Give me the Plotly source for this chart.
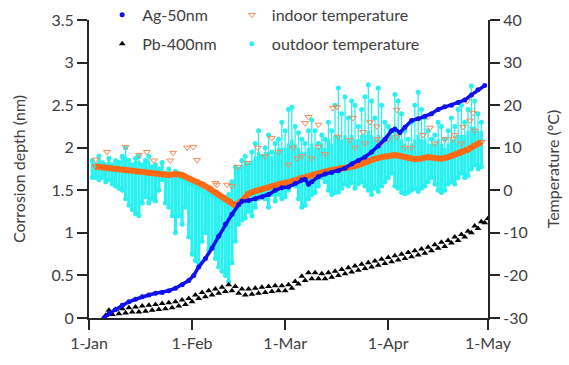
import pandas as pd
import plotly.graph_objects as go

START = "2021-01-01"

# ---------------- data (days counted from 1-Jan) ----------------
ag_days = [4.5, 6, 8, 10, 12, 14, 16, 18, 20, 22, 24, 26, 28, 30, 31.5, 33, 35, 37, 39, 41,
           43, 45, 46, 48, 50, 52, 54, 56, 58, 60, 62, 64, 65, 66, 67, 69, 71, 73, 75, 77,
           79, 81, 83, 85, 87, 89, 91, 92, 93.5, 95, 97, 99, 101, 103, 105, 107, 109, 111,
           113, 115, 117, 119]
ag_depth = [0.00, 0.05, 0.10, 0.15, 0.19, 0.22, 0.25, 0.27, 0.29, 0.30, 0.32, 0.35, 0.39,
            0.44, 0.50, 0.60, 0.70, 0.82, 0.96, 1.10, 1.22, 1.33, 1.37, 1.38, 1.40, 1.42,
            1.45, 1.50, 1.53, 1.54, 1.58, 1.62, 1.63, 1.57, 1.60, 1.66, 1.69, 1.71, 1.73,
            1.76, 1.81, 1.85, 1.89, 1.95, 2.02, 2.10, 2.20, 2.22, 2.18, 2.24, 2.32, 2.34,
            2.37, 2.40, 2.45, 2.48, 2.50, 2.53, 2.56, 2.62, 2.68, 2.73]

pb_days = list(range(5, 121))
pb_depth = [0.03, 0.09, 0.04, 0.10, 0.05, 0.11, 0.06, 0.12, 0.07, 0.13, 0.07, 0.14, 0.08,
            0.15, 0.09, 0.16, 0.10, 0.17, 0.11, 0.18, 0.12, 0.19, 0.14, 0.21, 0.16, 0.23,
            0.19, 0.27, 0.23, 0.30, 0.25, 0.32, 0.27, 0.34, 0.29, 0.36, 0.31, 0.39, 0.32,
            0.37, 0.29, 0.34, 0.27, 0.34, 0.28, 0.35, 0.29, 0.36, 0.30, 0.37, 0.31, 0.38,
            0.32, 0.38, 0.32, 0.39, 0.35, 0.43, 0.40, 0.49, 0.44, 0.53, 0.46, 0.53, 0.46,
            0.52, 0.46, 0.53, 0.48, 0.55, 0.50, 0.57, 0.52, 0.59, 0.54, 0.61, 0.56, 0.63,
            0.58, 0.65, 0.60, 0.67, 0.62, 0.69, 0.64, 0.71, 0.66, 0.73, 0.68, 0.75, 0.70,
            0.77, 0.72, 0.79, 0.74, 0.81, 0.76, 0.83, 0.79, 0.86, 0.82, 0.89, 0.84, 0.91,
            0.88, 0.95, 0.91, 0.98, 0.95, 1.02, 1.00, 1.08, 1.05, 1.13, 1.12, 1.17]

in_days = [2, 4, 6, 8, 10, 12, 14, 16, 18, 20, 22, 24, 26, 28, 30, 32, 34, 36, 38, 40, 42,
           44, 46, 48, 50, 52, 54, 56, 58, 60, 62, 64, 66, 68, 70, 72, 74, 76, 78, 80, 82,
           84, 86, 88, 90, 92, 94, 96, 98, 100, 102, 104, 106, 108, 110, 112, 114, 116, 118]
in_temp = [5.6, 5.4, 5.2, 5.0, 4.8, 4.7, 4.5, 4.3, 4.1, 4.0, 3.7, 3.6, 3.8, 3.6, 2.8, 2.2,
           1.4, 0.5, -0.5, -1.6, -2.6, -3.6, -2.5, -0.8, -0.2, 0.3, 0.7, 1.2, 1.6, 1.9, 2.4,
           3.0, 3.4, 3.9, 4.2, 4.6, 4.8, 5.0, 5.3, 5.7, 6.2, 6.9, 7.4, 7.8, 8.0, 8.3, 8.0,
           7.6, 7.3, 7.5, 7.8, 7.6, 7.4, 7.8, 8.3, 8.9, 9.6, 10.5, 11.3]

in_peak_days = [2, 5.4, 11, 15, 17.4, 19.5, 24.4, 25.3, 29.5, 31.3, 32.5, 38, 38.5, 41.5,
                43, 44.8, 47.5, 50.8, 53, 55, 57, 60, 61.4, 62.6, 64, 65, 66, 67, 69, 69,
                71, 73.4, 74.6, 75, 78.5, 79.4, 80, 82.4, 83, 84.5, 86.6, 86.6, 88, 90,
                92.6, 92.6, 95, 97, 100.5, 102, 102.6, 104, 107, 109.5, 110, 112, 112.5,
                113.7, 114.6, 115.5, 116]
in_peak_temp = [7.2, 9.0, 10.2, 8.3, 9.0, 7.0, 7.0, 8.8, 10.0, 10.2, 7.1, 1.7, 1.3, 1.3,
                1.0, 5.5, 6.4, 10.0, 8.0, 12.3, 9.0, 6.0, 10.0, 7.5, 8.0, 15.8, 17.2, 7.5,
                15.4, 10.2, 8.5, 19.3, 19.6, 12.6, 11.8, 17.0, 10.0, 13.7, 11.0, 16.0, 12.0,
                15.0, 11.0, 12.0, 18.9, 12.6, 10.0, 10.0, 13.0, 17.3, 14.7, 11.0, 12.0, 12.0,
                13.0, 11.0, 14.9, 21.0, 16.4, 18.2, 14.0]

out_days = list(range(1, 119))
out_max = [7, 6, 8, 6.5, 6, 7.5, 6, 7, 6.5, 8, 10, 7, 6, 7.5, 8, 6, 7, 8, 5.5, 6, 5, 6.5,
           4, 5, 3.5, 4.5, 4, 3, 2.5, 2, 1.5, 1, 0.5, 0, -0.5, 0, -1, -1.5, -2, -2.5, -2,
           -1, 2, 5.5, 5, 7, 8, 6, 9, 11, 14, 8, 10, 13, 9, 11, 12, 16, 14, 19, 19.5, 15,
           13.5, 12, 11, 14, 16.5, 14, 11, 13, 12, 16, 14, 20, 24, 18, 22, 17, 21, 20, 15,
           19, 22, 24.8, 21, 17, 24, 20, 16, 15, 14, 22.5, 21, 18, 14, 12, 16, 20, 23, 19,
           17, 14, 12, 13, 16, 15, 12, 14, 17, 15, 19, 20, 16, 19, 24.5, 21, 18, 16]
# upper edge of the dense part of each day's cloud of readings
out_core = [7, 6, 8, 6.5, 6, 7.5, 6, 7, 6.5, 8, 8, 7, 6, 7, 7, 6, 7, 7, 5.5, 6, 5, 6.5,
            4, 5, 3.5, 4.5, 4, 3, 2.5, 2, 1.5, 1, 0.5, 0, -0.5, 0, -1, -1.5, -2, -2.5, -2,
            -1, 2, 5, 5, 6, 7, 6, 7, 8, 9, 8, 9, 9, 8, 9, 10, 10, 10, 11, 12, 11, 10, 9, 9,
            10, 11, 10, 10, 11, 10, 12, 11, 13, 13, 12, 13, 12, 13, 12, 12, 13, 13, 14, 13,
            12, 13, 12, 12, 13, 13, 14, 13, 12, 11, 10, 11, 12, 13, 12, 12, 11, 11, 11, 12,
            11, 10, 11, 12, 12, 13, 13, 13, 14, 15, 15, 14, 14]
out_min = [3, 3, 2.5, 3, 2, 2.5, 1.5, 1, 0.5, 0, -2, -3.5, -4.5, -5.5, -6, -3, -1.5, -3,
           -2, -2.5, 0, 2.5, -3, -4, -6, -10, -6, -8, -4, -11, -15, -16.5, -17, -12, -10,
           -14, -13, -16, -18, -19, -20, -21.5, -17, -12, -8, -7, -6.5, -5, -6, -4, -2, -1,
           -2, -4, -1, -2.5, -1, -2, -1.5, 0, 2, 1, -2, -4, -3.5, -2, -1, -0.5, 1, 3, 2, 0,
           -1, -0.5, -0.4, 0.5, 1.5, 1, 1.8, 0.5, 1.5, 2, 1, 0, -1, 0.5, -0.3, 1, 2, 3, 4,
           1, 0.5, -0.5, -0.8, -0.5, 0, 0.5, -0.3, 0.5, 1, 2, 3, 1.5, 0, -0.5, 0, 1.5, 2,
           1.5, 3, 4, 3, 3.5, 5, 6, 5, 5.5]

month_ticks = ["2021-01-01", "2021-02-01", "2021-03-01", "2021-04-01", "2021-05-01"]
month_labels = ["1-Jan", "1-Feb", "1-Mar", "1-Apr", "1-May"]
depth_ticks = [0, 0.5, 1, 1.5, 2, 2.5, 3, 3.5]
depth_labels = ["0", "0.5", "1", "1.5", "2", "2.5", "3", "3.5"]
temp_ticks = [-30, -20, -10, 0, 10, 20, 30, 40]
temp_labels = ["-30", "-20", "-10", "0", "10", "20", "30", "40"]

base = pd.Timestamp(START)


def to_dates(days):
    return list(base + pd.to_timedelta(days, unit="D"))


def streaks(xs, lows, highs):
    sx, sy = [], []
    for d, lo, hi in zip(xs, lows, highs):
        sx += [d, d, None]
        sy += [lo, hi, None]
    return sx, sy


BLUE = "#1010F0"
ORANGE = "#FF6A12"
ORANGE_LT = "#F58A55"
CYAN = "#2AF0F0"
AXC = "#262626"
TXT = "#404040"

fig = go.Figure()

# temperatures on the base axis (y, right side) so corrosion traces draw on top
od = to_dates(out_days)
tx, ty = streaks(od, out_core, out_max)
fig.add_trace(go.Scatter(x=tx, y=ty, mode="lines", line=dict(color=CYAN, width=1.3),
                         yaxis="y", showlegend=False, hoverinfo="skip"))
cx, cy = streaks(od, out_min, out_core)
fig.add_trace(go.Scatter(x=cx, y=cy, mode="lines", line=dict(color=CYAN, width=3.2),
                         yaxis="y", showlegend=False, hoverinfo="skip"))
fig.add_trace(go.Scatter(x=od + od, y=out_min + out_max, mode="markers",
                         marker=dict(color=CYAN, size=5), yaxis="y",
                         name="outdoor temperature", legend="legend2", legendgroup="od",
                         legendrank=2))

fig.add_trace(go.Scatter(x=to_dates(in_days), y=in_temp, mode="lines+markers",
                         line=dict(color=ORANGE, width=6),
                         marker=dict(symbol="triangle-down-open", color=ORANGE, size=6),
                         yaxis="y", showlegend=False))
fig.add_trace(go.Scatter(x=to_dates(in_peak_days), y=in_peak_temp, mode="markers",
                         marker=dict(symbol="triangle-down-open", color=ORANGE_LT, size=6,
                                     line=dict(width=1)),
                         yaxis="y", name="indoor temperature", legend="legend2",
                         legendgroup="in", legendrank=1))

# corrosion depth on the overlaying axis (y2, left side)
fig.add_trace(go.Scatter(x=to_dates(pb_days), y=pb_depth, mode="markers",
                         marker=dict(symbol="triangle-up", color="black", size=6),
                         yaxis="y2", name="Pb-400nm", legend="legend", legendgroup="pb",
                         legendrank=2))

ad = to_dates(ag_days)
fig.add_trace(go.Scatter(x=ad, y=ag_depth, mode="lines", line=dict(color=BLUE, width=3.5),
                         yaxis="y2", showlegend=False))
fig.add_trace(go.Scatter(x=ad, y=ag_depth, mode="markers",
                         marker=dict(color=BLUE, size=5), yaxis="y2", name="Ag-50nm",
                         legend="legend", legendgroup="ag", legendrank=1))

font_family = "Lato, 'Open Sans', sans-serif"
axis_common = dict(showline=True, linewidth=2, linecolor=AXC, ticks="outside", ticklen=10,
                   tickwidth=2, tickcolor=AXC, showgrid=False, zeroline=False,
                   automargin=False, tickfont=dict(size=16, color=TXT))

fig.update_layout(
    width=569, height=365,
    margin=dict(l=89, r=81, t=20, b=47, autoexpand=False),
    paper_bgcolor="white", plot_bgcolor="white",
    font=dict(family=font_family, color=TXT),
    xaxis=dict(type="date", range=[month_ticks[0], month_ticks[-1]], tickvals=month_ticks,
               ticktext=month_labels, **axis_common),
    yaxis=dict(range=[-30, 40], tickvals=temp_ticks, ticktext=temp_labels, side="right",
               title=dict(text="Temperature (°C)", font=dict(size=16, color=TXT),
                          standoff=21),
               **axis_common),
    yaxis2=dict(range=[0, 3.5], tickvals=depth_ticks, ticktext=depth_labels,
                overlaying="y", side="left", anchor="x",
                title=dict(text="Corrosion depth (nm)", font=dict(size=16, color=TXT),
                           standoff=22),
                **axis_common),
    legend=dict(x=0.033, y=1.074, xanchor="left", yanchor="top", bgcolor="rgba(0,0,0,0)",
                font=dict(size=16, color=TXT), tracegroupgap=5, traceorder="grouped"),
    legend2=dict(x=0.358, y=1.074, xanchor="left", yanchor="top", bgcolor="rgba(0,0,0,0)",
                 font=dict(size=16, color=TXT), tracegroupgap=5, traceorder="grouped"),
    showlegend=True,
)

fig.write_html("out.html",
               config={"displayModeBar": False},
               post_script="document.body.style.margin='0';"
                           "document.body.style.overflow='hidden';")
